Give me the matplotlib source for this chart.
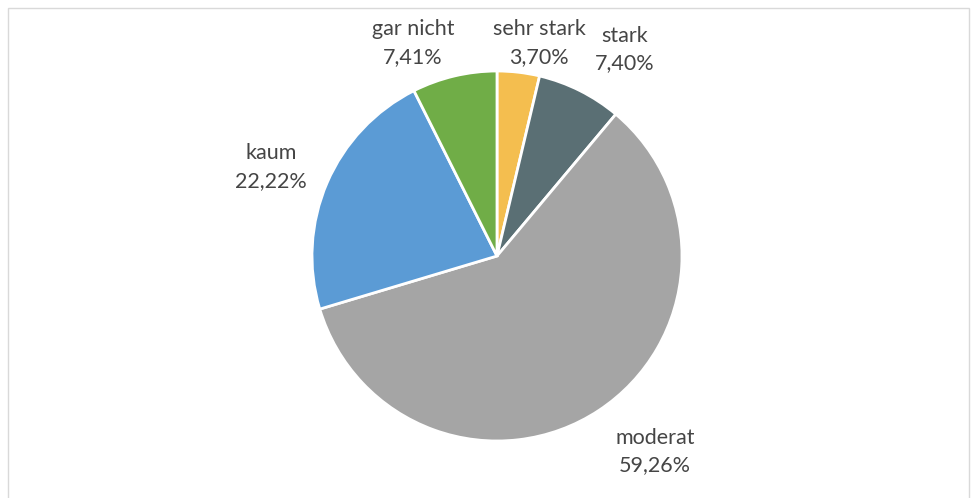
import matplotlib.pyplot as plt
from matplotlib.patches import Rectangle

# data
categories = ['sehr stark', 'stark', 'moderat', 'kaum', 'gar nicht']
values = [3.70, 7.40, 59.26, 22.22, 7.41]
value_labels = ['3,70%', '7,40%', '59,26%', '22,22%', '7,41%']
colors = ['#F4BE4F', '#5A6F74', '#A5A5A5', '#5B9BD5', '#70AD47']

# label positions (data units, pie radius = 1)
label_pos = [(0.227, 1.151), (0.692, 1.114), (0.854, -1.059),
             (-1.222, 0.481), (-0.454, 1.151)]

W, H = 974, 498
cx, cy, r = 497, 256, 185

fig = plt.figure(figsize=(W / 100, H / 100), dpi=100)
ax = fig.add_axes([0, 0, 1, 1])
ax.pie(values, colors=colors, startangle=90, counterclock=False,
       radius=1, center=(0, 0),
       wedgeprops=dict(edgecolor='white', linewidth=2))
ax.set_xlim(-cx / r, (W - cx) / r)
ax.set_ylim(-(H - cy) / r, cy / r)
ax.set_aspect('auto')
ax.axis('off')

for (x, y), cat, lab in zip(label_pos, categories, value_labels):
    ax.text(x, y, cat + '\n' + lab, ha='center', va='center',
            fontsize=15.5, family=['Lato', 'DejaVu Sans'],
            color='#454545', linespacing=1.45)

# chart frame
fig.patches.append(Rectangle((8 / W, -0.01), (969 - 8) / W, 1 - 8 / H + 0.01,
                             transform=fig.transFigure, fill=False,
                             edgecolor='#D9D9D9', linewidth=1))

fig.savefig('out.png', dpi=100)
